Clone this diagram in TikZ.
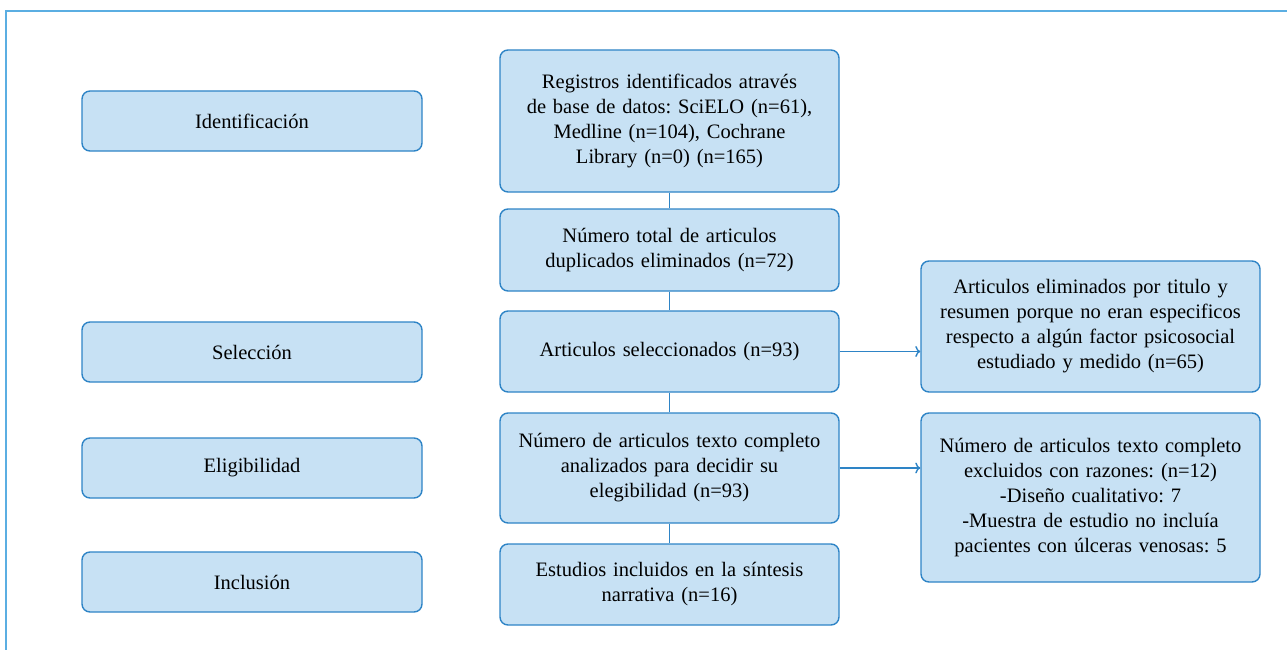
\documentclass[tikz,border=0pt]{standalone}
\usepackage{fontspec}
\setmainfont{Liberation Serif}
\usetikzlibrary{arrows.meta}
\definecolor{boxfill}{HTML}{C7E1F4}
\definecolor{boxline}{HTML}{2E84C6}
\definecolor{framecol}{HTML}{5BAEE2}
\frenchspacing
\begin{document}
\begin{tikzpicture}[
        x=1pt, y=1pt,
        phase/.style={rectangle, draw=boxline, line width=1.4pt, fill=boxfill, rounded corners=8pt, minimum width=340pt, minimum height=60pt, text width=320pt, align=center, inner sep=0pt, font=\fontsize{20.5}{25}\selectfont},
        stage/.style={rectangle, draw=boxline, line width=1.4pt, fill=boxfill, rounded corners=8pt, minimum width=339pt, text width=330pt, align=center, inner sep=0pt, font=\fontsize{20.5}{25}\selectfont},
        link/.style={draw=boxline, line width=1.5pt},
        arrow/.style={draw=boxline, line width=1.4pt, -{To[length=5pt,width=11pt]}}
    ]
        \useasboundingbox (0,0) rectangle (1287,-650);
        \draw[framecol, line width=1.3pt] (1287,-11) -- (6,-11) -- (6,-650);

        % Phases on the left
        \node[phase] (ident) at (252,-121) {Identificación};
        \node[phase] (selec) at (252,-352) {Selección};
        \node[phase] (eleg) at (252,-468) {Eligibilidad};
        \node[phase] (inclu) at (252,-582) {Inclusión};

        % Main flow
        \node[stage, minimum height=142pt] (regis) at (669.5,-121) {Registros identificados através\\de base de datos: SciELO (n=61),\\Medline (n=104), Cochrane\\Library (n=0) (n=165)};
        \node[stage, minimum height=82pt] (dupli) at (669.5,-250) {Número total de articulos\\duplicados eliminados (n=72)};
        \node[stage, minimum height=81pt] (selart) at (669.5,-351.5) {Articulos seleccionados (n=93)};
        \node[stage, minimum height=110pt] (texto) at (669.5,-468) {Número de articulos texto completo\\analizados para decidir su\\elegibilidad (n=93)};
        \node[stage, minimum height=81pt] (estud) at (669.5,-584.5) {Estudios incluidos en la síntesis\\narrativa (n=16)};
        \draw[link] (regis) -- (dupli);
        \draw[link] (dupli) -- (selart);
        \draw[link] (selart) -- (texto);
        \draw[link] (texto) -- (estud);

        % Exclusions on the right
        \node[stage, minimum height=131pt] (elim) at (1090.5,-326.5) {Articulos eliminados por titulo y\\resumen porque no eran especificos\\respecto a algún factor psicosocial\\estudiado y medido (n=65)};
        \node[stage, minimum height=169pt] (exclu) at (1090.5,-497.5) {Número de articulos texto completo\\excluidos con razones: (n=12)\\-Diseño cualitativo: 7\\-Muestra de estudio no incluía\\pacientes con úlceras venosas: 5};
        \draw[arrow] (selart.east) -- (selart.east -| elim.west);
        \draw[arrow] (texto.east) -- (texto.east -| exclu.west);

    \end{tikzpicture}
\end{document}
